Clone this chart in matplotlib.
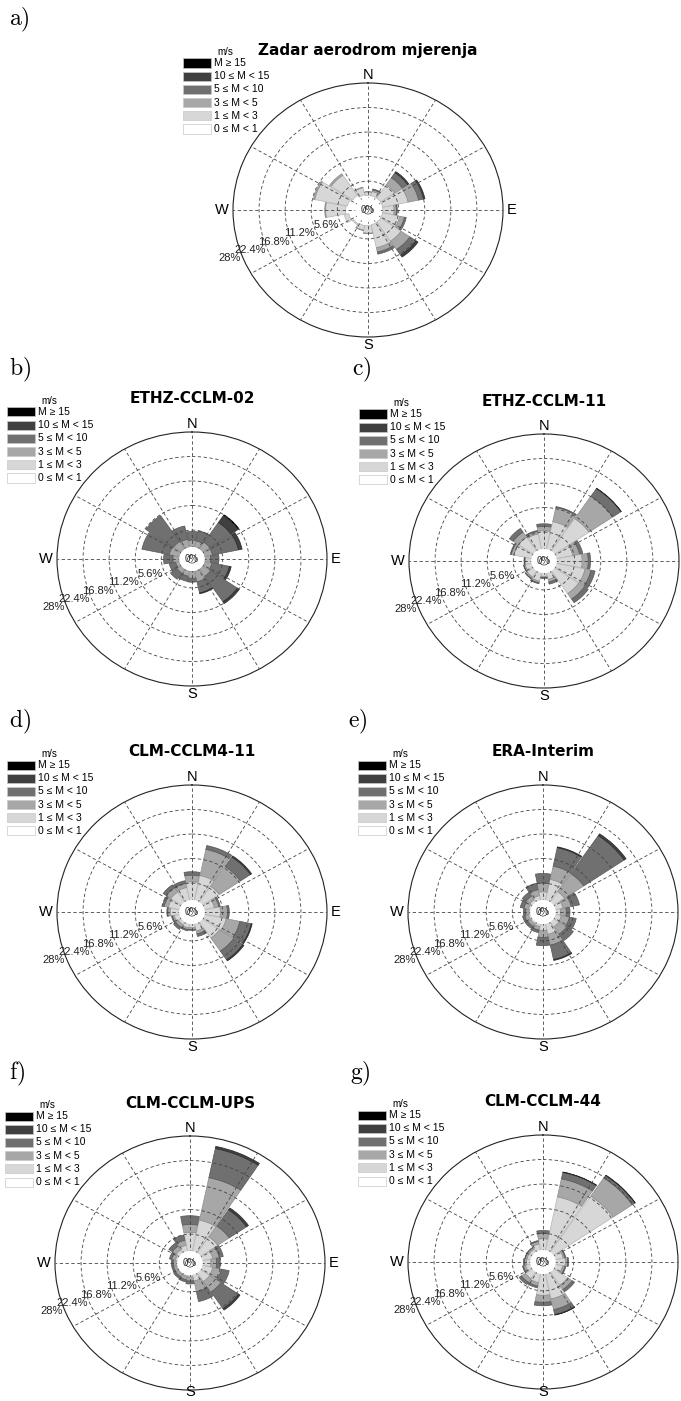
import numpy as np
import matplotlib.pyplot as plt
from matplotlib.patches import Rectangle

plt.rcParams['mathtext.fontset'] = 'cm'
plt.rcParams['font.family'] = ['Liberation Sans', 'DejaVu Sans']

# 16 smjerova, od N u smjeru kazaljke
smjerovi = ['N', 'NNE', 'NE', 'ENE', 'E', 'ESE', 'SE', 'SSE',
            'S', 'SSW', 'SW', 'WSW', 'W', 'WNW', 'NW', 'NNW']
razredi = ['0 ≤ M < 1', '1 ≤ M < 3', '3 ≤ M < 5', '5 ≤ M < 10', '10 ≤ M < 15', 'M ≥ 15']
boje = ['#ffffff', '#d7d7d7', '#a7a7a7', '#707070', '#404040', '#000000']
rubovi = ['none', '#b4b4b4', '#8c8c8c', '#565656', '#2a2a2a', '#000000']
prstenovi = [5.6, 11.2, 16.8, 22.4, 28]
prsten_oznake = ['5.6%', '11.2%', '16.8%', '22.4%', '28%']

# frekvencije (%) po smjeru: [0-1, 1-3, 3-5, 5-10, 10-15, >=15]
zadar = [
    [2.3, 0.8, 0.1, 0.0, 0.0, 0.0],
    [2.3, 1.0, 0.4, 0.2, 0.0, 0.0],
    [2.3, 3.6, 2.0, 1.4, 0.3, 0.0],
    [2.2, 5.6, 2.3, 1.1, 0.3, 0.0],
    [2.2, 2.4, 0.5, 0.2, 0.0, 0.0],
    [2.2, 3.8, 1.0, 0.4, 0.0, 0.0],
    [2.3, 5.3, 2.3, 1.6, 0.5, 0.0],
    [2.4, 5.4, 1.0, 0.5, 0.0, 0.0],
    [2.6, 1.7, 0.1, 0.0, 0.0, 0.0],
    [2.6, 1.1, 0.1, 0.0, 0.0, 0.0],
    [2.8, 0.3, 0.0, 0.0, 0.0, 0.0],
    [3.2, 1.0, 0.0, 0.0, 0.0, 0.0],
    [3.8, 4.3, 0.2, 0.0, 0.0, 0.0],
    [3.5, 7.2, 0.3, 0.0, 0.0, 0.0],
    [3.0, 5.6, 0.4, 0.0, 0.0, 0.0],
    [2.5, 1.7, 0.1, 0.0, 0.0, 0.0],
]
ethz_02 = [
    [0.9, 0.8, 1.6, 2.0, 0.0, 0.0],
    [0.9, 0.8, 1.5, 2.4, 0.0, 0.0],
    [0.9, 0.9, 1.8, 5.5, 2.0, 0.1],
    [0.9, 0.9, 1.7, 5.7, 0.8, 0.0],
    [0.9, 0.8, 1.3, 1.8, 0.0, 0.0],
    [0.9, 0.9, 1.6, 3.8, 0.4, 0.0],
    [0.9, 0.9, 2.0, 7.0, 0.5, 0.0],
    [0.9, 1.0, 2.4, 2.6, 0.2, 0.0],
    [0.9, 0.9, 1.6, 0.9, 0.0, 0.0],
    [0.9, 0.8, 1.3, 1.2, 0.0, 0.0],
    [0.9, 0.8, 1.2, 1.7, 0.0, 0.0],
    [0.9, 0.7, 1.0, 1.4, 0.0, 0.0],
    [0.9, 0.8, 1.4, 2.0, 0.0, 0.0],
    [0.9, 0.9, 2.2, 6.0, 0.0, 0.0],
    [0.9, 0.9, 2.0, 7.2, 0.0, 0.0],
    [0.9, 0.9, 1.8, 3.1, 0.0, 0.0],
]
ethz_11 = [
    [0.7, 5.2, 1.0, 0.6, 0.0, 0.0],
    [0.7, 7.5, 3.3, 0.2, 0.0, 0.0],
    [0.7, 10.0, 6.2, 2.1, 0.1, 0.0],
    [0.7, 4.6, 1.5, 0.7, 0.0, 0.0],
    [0.7, 6.5, 1.3, 0.5, 0.0, 0.0],
    [0.7, 7.3, 1.3, 0.9, 0.0, 0.0],
    [0.7, 7.3, 1.5, 1.0, 0.0, 0.0],
    [0.7, 2.6, 0.6, 0.5, 0.0, 0.0],
    [0.7, 1.8, 0.3, 0.2, 0.0, 0.0],
    [0.7, 3.0, 0.4, 0.2, 0.0, 0.0],
    [0.7, 2.7, 0.4, 0.1, 0.0, 0.0],
    [0.7, 2.4, 0.3, 0.1, 0.0, 0.0],
    [0.7, 2.3, 0.2, 0.1, 0.0, 0.0],
    [0.7, 4.9, 0.6, 0.2, 0.0, 0.0],
    [0.7, 4.9, 1.4, 1.0, 0.0, 0.0],
    [0.7, 4.6, 0.6, 0.2, 0.0, 0.0],
]
clm_cclm4_11 = [
    [0.7, 5.2, 1.5, 0.8, 0.0, 0.0],
    [0.7, 6.8, 6.1, 0.9, 0.0, 0.0],
    [0.7, 5.4, 5.5, 2.6, 0.3, 0.0],
    [0.7, 3.2, 1.0, 0.3, 0.0, 0.0],
    [0.7, 4.4, 1.5, 0.4, 0.0, 0.0],
    [0.7, 5.8, 3.0, 2.5, 0.2, 0.0],
    [0.7, 5.5, 3.6, 2.4, 0.3, 0.0],
    [0.7, 2.7, 0.7, 0.6, 0.0, 0.0],
    [0.7, 1.9, 0.4, 0.2, 0.0, 0.0],
    [0.7, 2.0, 0.4, 0.3, 0.0, 0.0],
    [0.7, 1.8, 0.7, 0.6, 0.0, 0.0],
    [0.7, 2.2, 0.4, 0.2, 0.0, 0.0],
    [0.7, 3.0, 0.5, 0.2, 0.0, 0.0],
    [0.7, 3.5, 0.9, 0.4, 0.0, 0.0],
    [0.7, 3.8, 1.2, 0.8, 0.0, 0.0],
    [0.7, 4.0, 1.0, 0.6, 0.0, 0.0],
]
era_interim = [
    [0.8, 2.8, 2.0, 2.2, 0.0, 0.0],
    [0.8, 5.8, 3.1, 4.3, 0.2, 0.0],
    [0.8, 3.8, 5.0, 10.5, 0.5, 0.0],
    [0.8, 2.6, 1.8, 1.8, 0.0, 0.0],
    [0.8, 2.0, 1.2, 0.8, 0.0, 0.0],
    [0.8, 2.2, 1.8, 1.5, 0.0, 0.0],
    [0.8, 2.3, 2.0, 1.8, 0.0, 0.0],
    [0.8, 3.4, 2.5, 3.4, 0.2, 0.0],
    [0.8, 2.4, 1.6, 1.9, 0.0, 0.0],
    [0.8, 1.6, 0.8, 0.6, 0.0, 0.0],
    [0.8, 1.4, 0.7, 0.6, 0.0, 0.0],
    [0.8, 1.4, 0.8, 0.5, 0.0, 0.0],
    [0.8, 1.2, 0.7, 0.5, 0.0, 0.0],
    [0.8, 1.4, 1.0, 0.8, 0.0, 0.0],
    [0.8, 1.6, 1.0, 1.0, 0.0, 0.0],
    [0.8, 2.0, 1.4, 1.5, 0.0, 0.0],
]
clm_ups = [
    [0.7, 5.3, 1.8, 2.0, 0.0, 0.0],
    [0.7, 8.3, 9.9, 6.8, 0.5, 0.0],
    [0.7, 5.5, 3.0, 4.5, 0.5, 0.0],
    [0.7, 3.3, 1.4, 0.9, 0.0, 0.0],
    [0.7, 2.8, 1.2, 0.8, 0.0, 0.0],
    [0.7, 3.3, 1.9, 1.7, 0.0, 0.0],
    [0.7, 3.4, 2.9, 4.6, 0.4, 0.0],
    [0.7, 2.5, 2.5, 2.3, 0.0, 0.0],
    [0.7, 1.5, 0.9, 0.7, 0.0, 0.0],
    [0.7, 1.4, 0.8, 0.5, 0.0, 0.0],
    [0.7, 1.3, 0.7, 0.5, 0.0, 0.0],
    [0.7, 1.3, 0.6, 0.4, 0.0, 0.0],
    [0.7, 1.3, 0.6, 0.4, 0.0, 0.0],
    [0.7, 1.5, 0.8, 0.5, 0.0, 0.0],
    [0.7, 1.9, 1.0, 0.9, 0.0, 0.0],
    [0.7, 2.4, 1.2, 1.2, 0.0, 0.0],
]
clm_44 = [
    [0.8, 3.5, 1.2, 0.7, 0.0, 0.0],
    [0.8, 13.4, 4.2, 1.5, 0.1, 0.0],
    [0.8, 16.4, 5.0, 0.7, 0.1, 0.0],
    [0.8, 2.6, 0.4, 0.2, 0.0, 0.0],
    [0.8, 3.0, 0.5, 0.2, 0.0, 0.0],
    [0.8, 2.5, 0.5, 0.2, 0.0, 0.0],
    [0.8, 4.6, 1.2, 0.6, 0.0, 0.0],
    [0.8, 6.8, 2.5, 1.2, 0.1, 0.0],
    [0.8, 5.8, 1.6, 0.8, 0.0, 0.0],
    [0.8, 3.0, 0.8, 0.4, 0.0, 0.0],
    [0.8, 2.8, 1.0, 0.6, 0.0, 0.0],
    [0.8, 2.0, 0.5, 0.2, 0.0, 0.0],
    [0.8, 1.8, 0.4, 0.2, 0.0, 0.0],
    [0.8, 1.7, 0.4, 0.1, 0.0, 0.0],
    [0.8, 1.7, 0.4, 0.1, 0.0, 0.0],
    [0.8, 2.4, 0.6, 0.2, 0.0, 0.0],
]

W, H = 681, 1401
RX, RY = 135, 127
fig = plt.figure(figsize=(W / 100, H / 100), dpi=100)


def fx(x):
    return x / W


def fy(y):
    return 1 - y / H


def ruza(slovo, naslov, podaci, cx, cy, sx, sy):
    ax = fig.add_axes([fx(cx - RX), fy(cy + RY), 2 * RX / W, 2 * RY / H],
                      projection='polar')
    ax.set_aspect('auto')
    ax.set_theta_zero_location('N')
    ax.set_theta_direction(-1)

    theta = np.deg2rad(np.arange(len(smjerovi)) * 22.5)
    p = np.array(podaci)
    dno = np.zeros(len(smjerovi))
    for k in range(len(razredi)):
        h = p[:, k]
        m = h > 0
        ax.bar(theta[m], h[m], width=np.deg2rad(21.5), bottom=dno[m],
               color=boje[k], edgecolor=rubovi[k], linewidth=0.5)
        dno += h

    ax.set_ylim(0, prstenovi[-1])
    ax.set_rorigin(-1.0)
    ax.set_yticks(prstenovi[:-1])
    ax.set_yticklabels([])
    ax.set_xticks(np.deg2rad(np.arange(0, 360, 30)))
    ax.set_xticklabels([])
    ax.grid(True, linestyle=(0, (4, 3)), color='#444444', linewidth=0.6)
    ax.set_axisbelow(False)
    ax.spines['polar'].set_color('#222222')
    ax.spines['polar'].set_linewidth(0.8)
    ax.spines['inner'].set_visible(False)
    ax.patch.set_alpha(0)

    # bijeli krug u sredini s oznakom 0%
    kut = np.linspace(0, 2 * np.pi, 120)
    ax.fill(kut, np.full_like(kut, 1.6), color='white', zorder=2.8)
    ax.text(0.5, 0.5, '0%', transform=ax.transAxes, ha='center', va='center',
            fontsize=7, color='#333333', zorder=3)

    for r, lab in zip(prstenovi, prsten_oznake):
        ax.text(np.deg2rad(250), r, lab, ha='right', va='top',
                fontsize=8, color='#222222', clip_on=False)

    # strane svijeta (E desnog stupca je u originalu odrezan)
    fig.text(fx(cx), fy(cy - RY - 8), 'N', ha='center', va='center', fontsize=10.5)
    fig.text(fx(cx), fy(min(cy + RY + 8, H - 9)), 'S', ha='center', va='center',
             fontsize=10.5)
    if cx + RX + 14 < W:
        fig.text(fx(cx + RX + 9), fy(cy), 'E', ha='center', va='center', fontsize=10.5)
    fig.text(fx(cx - RX - 11), fy(cy), 'W', ha='center', va='center', fontsize=10.5)

    # naslov i oznaka panela
    fig.text(fx(cx), fy(cy - 160), naslov, ha='center', va='center',
             fontsize=11, fontweight='bold', family='DejaVu Sans')
    fig.text(fx(sx), fy(sy), r'$\mathrm{' + slovo + r')}$',
             ha='left', va='center', fontsize=17)

    # legenda
    fig.text(fx(cx - 151), fy(cy - 158), 'm/s', ha='left', va='center', fontsize=7)
    for i, (lab, c) in enumerate(zip(razredi[::-1], boje[::-1])):
        yc = cy - 147 + 13.2 * i
        fig.add_artist(Rectangle((fx(cx - 185), fy(yc + 4.5)), 28 / W, 9 / H,
                                 transform=fig.transFigure, facecolor=c,
                                 edgecolor='#c8c8c8', linewidth=0.5))
        fig.text(fx(cx - 154), fy(yc), lab, ha='left', va='center', fontsize=7.5)


paneli = [
    ('a', 'Zadar aerodrom mjerenja', zadar, 368, 210, 9, 20),
    ('b', 'ETHZ-CCLM-02', ethz_02, 192, 559, 9, 370),
    ('c', 'ETHZ-CCLM-11', ethz_11, 544, 561, 352, 370),
    ('d', 'CLM-CCLM4-11', clm_cclm4_11, 192, 912, 9, 722),
    ('e', 'ERA-Interim', era_interim, 543, 912, 348, 722),
    ('f', 'CLM-CCLM-UPS', clm_ups, 190, 1263, 9, 1074),
    ('g', 'CLM-CCLM-44', clm_44, 543, 1262, 350, 1074),
]

for slovo, naslov, podaci, cx, cy, sx, sy in paneli:
    ruza(slovo, naslov, podaci, cx, cy, sx, sy)

fig.savefig('out.png', dpi=100)
